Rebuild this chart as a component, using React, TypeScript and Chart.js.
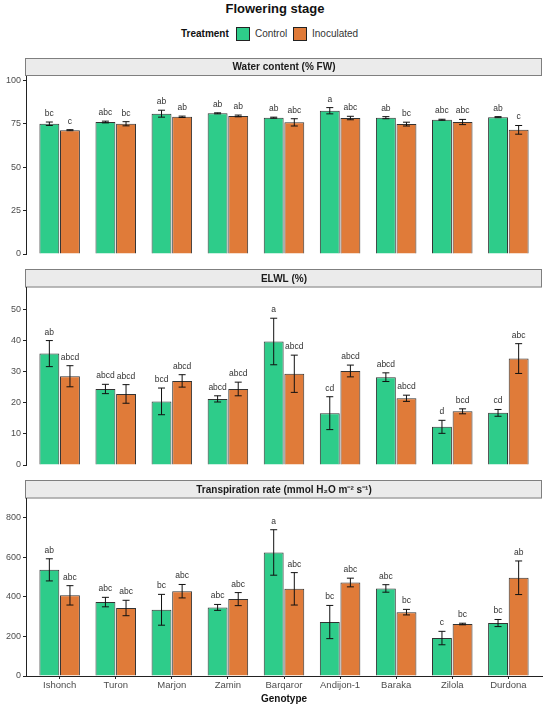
import React, { useEffect, useRef } from "react";
import { Chart, registerables } from "chart.js";

Chart.register(...registerables);

const genotypes = ["Ishonch", "Turon", "Marjon", "Zamin", "Barqaror", "Andijon-1", "Baraka", "Zilola", "Durdona"];
const treatments = ["Control", "Inoculated"];

const waterControl = [75, 76, 80.8, 81, 78.5, 82.5, 78.5, 77.3, 78.8];
const waterControlErr = [1, 0.5, 2, 0.3, 0.3, 1.8, 0.6, 0.3, 0.3];
const waterInoc = [71.3, 75, 79, 79.5, 75.8, 78.3, 74.8, 76, 71.5];
const waterInocErr = [0.3, 1.2, 0.4, 0.5, 2.1, 1, 1.1, 1.5, 2.5];
const waterControlLetters = ["bc", "abc", "ab", "ab", "ab", "a", "ab", "abc", "ab"];
const waterInocLetters = ["c", "bc", "ab", "ab", "abc", "abc", "bc", "abc", "c"];
const waterTicks = [0, 25, 50, 75, 100];

const elwlControl = [35.9, 24.5, 20.5, 21.3, 39.8, 16.7, 28.3, 12.3, 16.8];
const elwlControlErr = [4.2, 1.5, 4.3, 1, 7.5, 5.3, 1.4, 2.1, 1.1];
const elwlInoc = [28.6, 22.9, 27.1, 24.5, 29.4, 30.3, 21.5, 17.3, 34.3];
const elwlInocErr = [3.4, 3, 2, 2.2, 6, 1.9, 1, 0.8, 4.8];
const elwlControlLetters = ["ab", "abcd", "bcd", "abcd", "a", "cd", "abcd", "d", "cd"];
const elwlInocLetters = ["abcd", "abcd", "abcd", "abcd", "abcd", "abcd", "abcd", "bcd", "abc"];
const elwlTicks = [0, 10, 20, 30, 40, 50];

const transControl = [537, 374, 335, 347, 625, 273, 443, 192, 268];
const transControlErr = [56, 24, 78, 15, 115, 84, 19, 34, 18];
const transInoc = [408, 344, 429, 389, 441, 473, 323, 263, 497];
const transInocErr = [49, 39, 34, 33, 82, 22, 14, 4, 85];
const transControlLetters = ["ab", "abc", "bc", "abc", "a", "bc", "abc", "c", "bc"];
const transInocLetters = ["abc", "abc", "abc", "abc", "abc", "abc", "bc", "bc", "ab"];
const transTicks = [0, 200, 400, 600, 800];

const GREEN = "#2ecc8a";
const ORANGE = "#e07b39";
const FONT = "'Liberation Sans', Arial, Helvetica, sans-serif";

type PanelCfg = {
  title: string;
  top: number;
  height: number;
  bottomPad: number;
  stripTop: number;
  plotTop: number;
  yMax: number;
  ticks: number[];
  control: number[];
  controlErr: number[];
  inoc: number[];
  inocErr: number[];
  controlLetters: string[];
  inocLetters: string[];
  showX: boolean;
};

function Panel({ cfg }: { cfg: PanelCfg }) {
  const ref = useRef<HTMLCanvasElement | null>(null);
  useEffect(() => {
    if (!ref.current) return;
    const errs = [cfg.controlErr, cfg.inocErr];
    const vals = [cfg.control, cfg.inoc];
    const letters = [cfg.controlLetters, cfg.inocLetters];
    const plugin = {
      id: "panelDeco",
      beforeDraw(chart: any) {
        const { ctx, chartArea } = chart;
        ctx.save();
        const h = cfg.plotTop - cfg.stripTop;
        ctx.fillStyle = "#ebebeb";
        ctx.fillRect(chartArea.left - 1, cfg.stripTop, chartArea.right - chartArea.left + 1, h);
        ctx.strokeStyle = "#7f7f7f";
        ctx.lineWidth = 1;
        ctx.strokeRect(chartArea.left - 0.5, cfg.stripTop + 0.5, chartArea.right - chartArea.left, h - 1);
        ctx.fillStyle = "#1a1a1a";
        ctx.font = `bold 10px ${FONT}`;
        ctx.textAlign = "center";
        ctx.textBaseline = "middle";
        ctx.fillText(cfg.title, (chartArea.left + chartArea.right) / 2, cfg.stripTop + h / 2 + 0.5);
        ctx.restore();
      },
      afterDatasetsDraw(chart: any) {
        const { ctx } = chart;
        const yScale = chart.scales.y;
        ctx.save();
        for (let d = 0; d < 2; d++) {
          const meta = chart.getDatasetMeta(d);
          meta.data.forEach((bar: any, i: number) => {
            const v = vals[d][i];
            const e = errs[d][i];
            const x = bar.x;
            const yt = yScale.getPixelForValue(v + e);
            const yb = yScale.getPixelForValue(v - e);
            ctx.strokeStyle = "#111";
            ctx.lineWidth = 1;
            ctx.beginPath();
            ctx.moveTo(x, yt);
            ctx.lineTo(x, yb);
            ctx.moveTo(x - 3.5, yt);
            ctx.lineTo(x + 3.5, yt);
            ctx.moveTo(x - 3.5, yb);
            ctx.lineTo(x + 3.5, yb);
            ctx.stroke();
            ctx.fillStyle = "#333";
            ctx.font = `8.5px ${FONT}`;
            ctx.textAlign = "center";
            ctx.textBaseline = "alphabetic";
            ctx.fillText(letters[d][i], x, yt - 6);
          });
        }
        ctx.restore();
      },
    };
    const chart = new Chart(ref.current, {
      type: "bar",
      data: {
        datasets: [
          {
            label: treatments[0],
            data: cfg.control.map((v, i) => ({ x: i, y: v })),
            backgroundColor: GREEN,
            borderColor: "#333",
            borderWidth: 1,
            categoryPercentage: 0.735,
            barPercentage: 0.965,
          },
          {
            label: treatments[1],
            data: cfg.inoc.map((v, i) => ({ x: i, y: v })),
            backgroundColor: ORANGE,
            borderColor: "#333",
            borderWidth: 1,
            categoryPercentage: 0.735,
            barPercentage: 0.965,
          },
        ],
      },
      options: {
        responsive: false,
        animation: false,
        devicePixelRatio: 1,
        layout: { padding: { top: cfg.plotTop, left: 0, right: 8, bottom: cfg.bottomPad } },
        plugins: { legend: { display: false }, title: { display: false }, tooltip: { enabled: false } },
        scales: {
          x: {
            type: "linear",
            min: -0.6,
            max: 8.6,
            offset: false,
            display: cfg.showX,
            afterBuildTicks: (axis: any) => {
              axis.ticks = genotypes.map((_, i) => ({ value: i }));
            },
            afterFit: (s: any) => {
              s.height = cfg.showX ? 34 : 0;
              s.paddingLeft = 0;
              s.paddingRight = 0;
            },
            ticks: {
              autoSkip: false,
              maxRotation: 0,
              padding: 1,
              color: "#4d4d4d",
              font: { family: FONT, size: 9.5 },
              callback: (v: any) => genotypes[Number(v)] ?? "",
            },
            grid: { display: true, offset: false, drawOnChartArea: false, drawTicks: true, tickLength: 3, color: "#222" },
            border: { display: true, color: "#222", width: 1 },
            title: {
              display: true,
              text: "Genotype",
              color: "#111",
              font: { family: FONT, size: 10, weight: "bold" },
              padding: { top: 0, bottom: 5 },
            },
          },
          y: {
            min: 0,
            max: cfg.yMax,
            afterBuildTicks: (axis: any) => {
              axis.ticks = cfg.ticks.map((v) => ({ value: v }));
            },
            afterFit: (s: any) => {
              s.width = 26;
              s.paddingTop = 0;
              s.paddingBottom = 0;
            },
            ticks: {
              padding: 2,
              color: "#4d4d4d",
              font: { family: FONT, size: 9 },
            },
            grid: { display: true, drawOnChartArea: false, drawTicks: true, tickLength: 3, color: "#222" },
            border: { display: true, color: "#222", width: 1 },
          },
        },
      } as any,
      plugins: [plugin as any],
    });
    return () => chart.destroy();
  }, [cfg]);
  return (
    <canvas
      ref={ref}
      width={550}
      height={cfg.height}
      style={{ position: "absolute", left: 0, top: cfg.top, width: 550, height: cfg.height }}
    />
  );
}

const panels: PanelCfg[] = [
  {
    title: "Water content (% FW)",
    top: 50,
    height: 212,
    bottomPad: 8,
    stripTop: 8,
    plotTop: 26,
    yMax: 102.5,
    ticks: waterTicks,
    control: waterControl,
    controlErr: waterControlErr,
    inoc: waterInoc,
    inocErr: waterInocErr,
    controlLetters: waterControlLetters,
    inocLetters: waterInocLetters,
    showX: false,
  },
  {
    title: "ELWL (%)",
    top: 261,
    height: 211,
    bottomPad: 7,
    stripTop: 8,
    plotTop: 26.5,
    yMax: 57.2,
    ticks: elwlTicks,
    control: elwlControl,
    controlErr: elwlControlErr,
    inoc: elwlInoc,
    inocErr: elwlInocErr,
    controlLetters: elwlControlLetters,
    inocLetters: elwlInocLetters,
    showX: false,
  },
  {
    title: "Transpiration rate (mmol H\u2082O m\u207B\u00B2 s\u207B\u00B9)",
    top: 472,
    height: 238,
    bottomPad: 0,
    stripTop: 8,
    plotTop: 26.5,
    yMax: 898,
    ticks: transTicks,
    control: transControl,
    controlErr: transControlErr,
    inoc: transInoc,
    inocErr: transInocErr,
    controlLetters: transControlLetters,
    inocLetters: transInocLetters,
    showX: true,
  },
];

export default function App() {
  useEffect(() => {
    document.body.style.margin = "0";
  }, []);
  const txt: React.CSSProperties = { position: "absolute", fontFamily: FONT, color: "#111", lineHeight: "14px", whiteSpace: "nowrap" };
  const box: React.CSSProperties = { position: "absolute", top: 27, width: 12, height: 12, border: "1px solid #222" };
  return (
    <div style={{ position: "relative", width: 550, height: 710, background: "#fff", overflow: "hidden" }}>
      <div style={{ ...txt, left: 0, width: 550, top: 2, textAlign: "center", fontWeight: "bold", fontSize: 13 }}>Flowering stage</div>
      <div style={{ ...txt, left: 181, top: 27, fontWeight: "bold", fontSize: 10 }}>Treatment</div>
      <div style={{ ...box, left: 236, background: GREEN }} />
      <div style={{ ...txt, left: 255, top: 27, fontSize: 10, color: "#333" }}>{treatments[0]}</div>
      <div style={{ ...box, left: 293, background: ORANGE }} />
      <div style={{ ...txt, left: 312, top: 27, fontSize: 10, color: "#333" }}>{treatments[1]}</div>
      {panels.map((p) => (
        <Panel key={p.title} cfg={p} />
      ))}
    </div>
  );
}
